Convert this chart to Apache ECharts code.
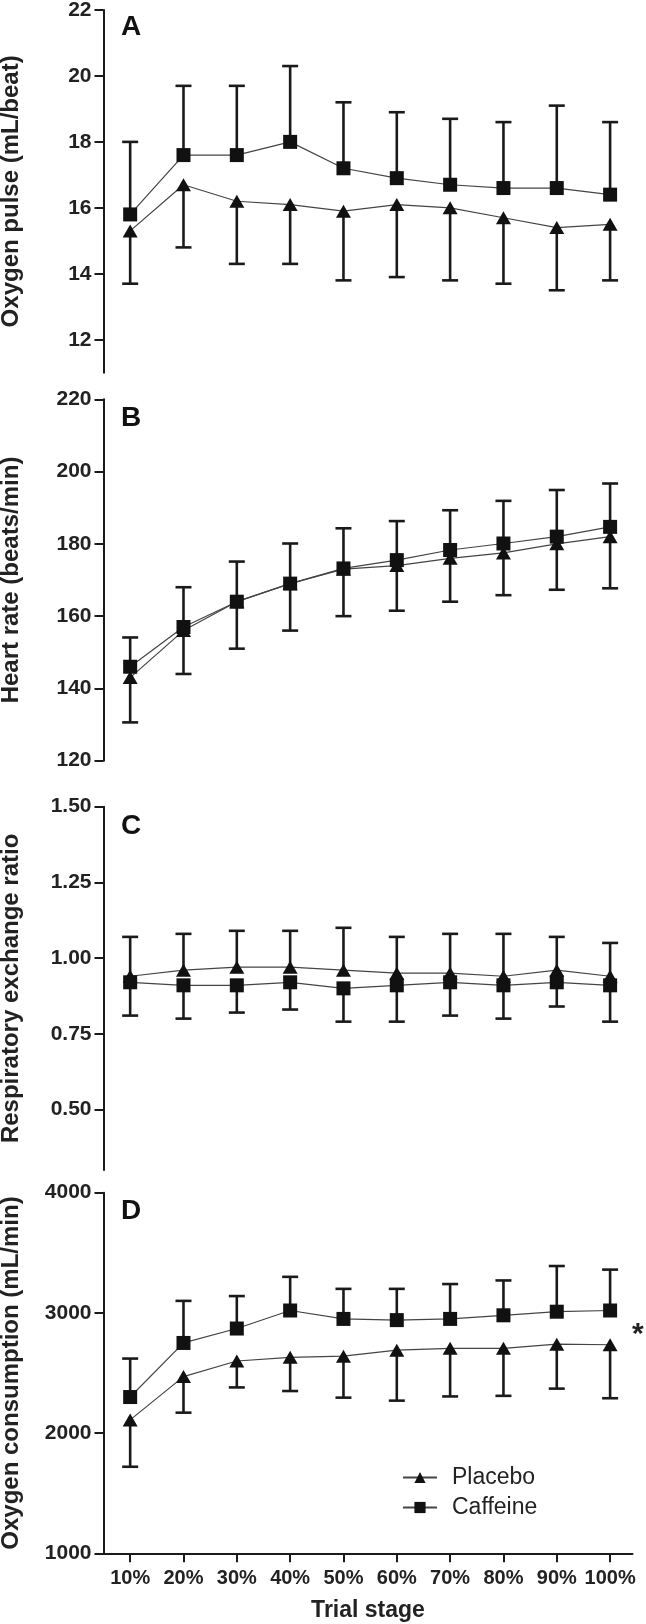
<!DOCTYPE html>
<html>
<head>
<meta charset="utf-8">
<script src="https://cdn.jsdelivr.net/npm/echarts@6/dist/echarts.min.js"></script>
<style>
  html, body { margin: 0; padding: 0; background: #fff; }
  #chart { width: 646px; height: 1624px; }
</style>
</head>
<body>
<div id="chart"></div>
<script>
// ---------- data ----------
const categories = ['10%', '20%', '30%', '40%', '50%', '60%', '70%', '80%', '90%', '100%'];
const seriesNames = ['Placebo', 'Caffeine'];

// A: Oxygen pulse (mL/beat)
const placeboO2Pulse   = [15.3, 16.7, 16.2, 16.1, 15.9, 16.1, 16.0, 15.7, 15.4, 15.5];
const placeboO2PulseSD = [1.6, 1.9, 1.9, 1.8, 2.1, 2.2, 2.2, 2.0, 1.9, 1.7];
const caffeineO2Pulse   = [15.8, 17.6, 17.6, 18.0, 17.2, 16.9, 16.7, 16.6, 16.6, 16.4];
const caffeineO2PulseSD = [2.2, 2.1, 2.1, 2.3, 2.0, 2.0, 2.0, 2.0, 2.5, 2.2];

// B: Heart rate (beats/min)
const placeboHR   = [143, 156, 164, 169, 173, 174, 176, 177.5, 180, 182];
const placeboHRSD = [12.4, 12, 13, 13, 13, 12.5, 12, 11.7, 12.7, 14.3];
const caffeineHR   = [146, 157, 164, 169, 173.2, 175.5, 178.3, 180.1, 182, 184.7];
const caffeineHRSD = [8.1, 11, 11.1, 11.1, 11.1, 10.8, 11, 11.8, 12.9, 12];

// C: Respiratory exchange ratio
const placeboRER   = [0.94, 0.96, 0.97, 0.97, 0.96, 0.95, 0.95, 0.94, 0.96, 0.94];
const placeboRERSD = [0.13, 0.12, 0.12, 0.12, 0.14, 0.12, 0.13, 0.14, 0.11, 0.11];
const caffeineRER   = [0.92, 0.91, 0.91, 0.92, 0.90, 0.91, 0.92, 0.91, 0.92, 0.91];
const caffeineRERSD = [0.11, 0.11, 0.09, 0.09, 0.11, 0.12, 0.11, 0.11, 0.08, 0.12];

// D: Oxygen consumption (mL/min)
const placeboVO2   = [2110, 2470, 2600, 2630, 2640, 2690, 2705, 2705, 2740, 2735];
const placeboVO2SD = [390, 300, 220, 280, 345, 420, 400, 395, 370, 445];
const caffeineVO2   = [2300, 2750, 2870, 3020, 2950, 2940, 2950, 2980, 3010, 3020];
const caffeineVO2SD = [320, 350, 270, 280, 250, 260, 290, 290, 380, 340];

// axis ranges and tick labels
const panelLetters = ['A', 'B', 'C', 'D'];
const yNames = ['Oxygen pulse (mL/beat)', 'Heart rate (beats/min)', 'Respiratory exchange ratio', 'Oxygen consumption (mL/min)'];
const yMins = [11, 120, 0.3, 1000];
const yMaxs = [22, 220, 1.5, 4000];
const yTicksA = [12, 14, 16, 18, 20, 22];
const yTicksB = [120, 140, 160, 180, 200, 220];
const yTicksC = [0.50, 0.75, 1.00, 1.25, 1.50];
const yTicksD = [1000, 2000, 3000, 4000];
const yDecimals = [0, 0, 2, 0];
// error bar direction: +1 upward, -1 downward  [placebo, caffeine]
const errDir = [[-1, 1], [-1, 1], [1, -1], [-1, 1]];
const significanceMark = '*';

// ---------- layout (styles/positions) ----------
const FONT = "'Liberation Sans', Arial, Helvetica, sans-serif";
const INK = '#1a1a1a';
const gridBase = { left: 103.5, right: 13.5, containLabel: false, outerBoundsMode: 'none' };
const grids = [
  Object.assign({ top: 10, height: 362.7 }, gridBase),
  Object.assign({ top: 399.3, height: 361.4 }, gridBase),
  Object.assign({ top: 806.7, height: 363.3 }, gridBase),
  Object.assign({ top: 1192.7, height: 360.6 }, gridBase)
];

const means = [
  [placeboO2Pulse, caffeineO2Pulse],
  [placeboHR, caffeineHR],
  [placeboRER, caffeineRER],
  [placeboVO2, caffeineVO2]
];
const sds = [
  [placeboO2PulseSD, caffeineO2PulseSD],
  [placeboHRSD, caffeineHRSD],
  [placeboRERSD, caffeineRERSD],
  [placeboVO2SD, caffeineVO2SD]
];
const yTicks = [yTicksA, yTicksB, yTicksC, yTicksD];
const xPos = categories.map((c, i) => i + 1);

const xAxes = [], yAxes = [], series = [];
for (let g = 0; g < 4; g++) {
  const last = g === 3;
  xAxes.push({
    type: 'value', gridIndex: g, min: 0.5, max: 10.42,
    show: last,
    axisLine: { show: true, lineStyle: { color: INK, width: 2 } },
    axisTick: { show: true, customValues: xPos, length: 9, lineStyle: { color: INK, width: 2 } },
    axisLabel: {
      show: true, customValues: xPos, margin: 15,
      formatter: v => categories[Math.round(v) - 1],
      fontFamily: FONT, fontWeight: 'bold', fontSize: 20, color: '#222'
    },
    splitLine: { show: false },
    name: last ? 'Trial stage' : '',
    nameLocation: 'middle', nameGap: 46,
    nameTextStyle: { fontFamily: FONT, fontWeight: 'bold', fontSize: 23, color: '#222' }
  });
  yAxes.push({
    type: 'value', gridIndex: g, min: yMins[g], max: yMaxs[g],
    axisLine: { show: true, lineStyle: { color: INK, width: 2 } },
    axisTick: { show: true, customValues: yTicks[g], length: 9, lineStyle: { color: INK, width: 2 } },
    axisLabel: {
      customValues: yTicks[g], margin: 12,
      formatter: v => Number(v).toFixed(yDecimals[g]),
      fontFamily: FONT, fontWeight: 'bold', fontSize: 21, color: '#222'
    },
    splitLine: { show: false },
    name: yNames[g], nameLocation: 'middle', nameGap: 80,
    nameTextStyle: { fontFamily: FONT, fontWeight: 'bold', fontSize: 24, color: '#222' }
  });

  for (let s = 0; s < 2; s++) {
    const dir = errDir[g][s];
    series.push({
      type: 'custom', name: seriesNames[s] + ' SD', xAxisIndex: g, yAxisIndex: g, z: 1,
      silent: true,
      data: means[g][s].map((m, i) => [xPos[i], m, sds[g][s][i]]),
      renderItem: (params, api) => {
        const x = api.value(0), m = api.value(1), sd = api.value(2);
        const p0 = api.coord([x, m]);
        const p1 = api.coord([x, m + dir * sd]);
        const hw = 8;
        const st = { stroke: INK, lineWidth: 2.6 };
        return {
          type: 'group',
          children: [
            { type: 'line', shape: { x1: p0[0], y1: p0[1], x2: p1[0], y2: p1[1] }, style: st },
            { type: 'line', shape: { x1: p1[0] - hw, y1: p1[1], x2: p1[0] + hw, y2: p1[1] }, style: st }
          ]
        };
      }
    });
    series.push({
      type: 'line', name: seriesNames[s], xAxisIndex: g, yAxisIndex: g, z: 3,
      data: means[g][s].map((m, i) => [xPos[i], m]),
      symbol: s === 0 ? 'triangle' : 'rect',
      symbolSize: s === 0 ? [15, 13] : 14,
      itemStyle: { color: '#111' },
      lineStyle: { color: '#444', width: 1.2 },
      emphasis: { disabled: true },
      animation: false
    });
  }
}

const letterTop = [13, 404, 812, 1197];
const graphics = panelLetters.map((L, i) => ({
  type: 'text', left: 121, top: letterTop[i],
  style: { text: L, font: "bold 28px " + FONT, fill: '#111' }
}));
graphics.push({
  type: 'text', left: 632, top: 1320,
  style: { text: significanceMark, font: "bold 30px " + FONT, fill: '#222' }
});

const chart = echarts.init(document.getElementById('chart'), null, { renderer: 'canvas' });
chart.setOption({
  animation: false,
  backgroundColor: '#fff',
  grid: grids,
  xAxis: xAxes,
  yAxis: yAxes,
  legend: {
    data: seriesNames,
    orient: 'vertical', left: 397, top: 1461,
    itemWidth: 34, itemHeight: 14, itemGap: 7,
    textStyle: { fontFamily: FONT, fontSize: 23, color: '#222', lineHeight: 23, padding: [0, 0, 0, 10] },
    selectedMode: false
  },
  graphic: graphics,
  series: series
});
</script>
</body>
</html>
